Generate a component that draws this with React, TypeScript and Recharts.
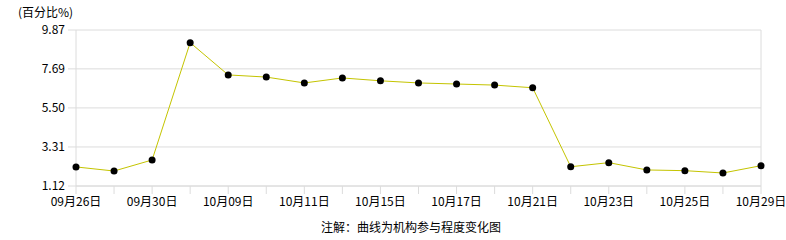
import { LineChart, Line, XAxis, YAxis, CartesianGrid, ReferenceLine } from "recharts";

const dates = [
  "09月26日", "09月27日", "09月30日", "10月08日", "10月09日", "10月10日", "10月11日",
  "10月14日", "10月15日", "10月16日", "10月17日", "10月18日", "10月21日", "10月22日",
  "10月23日", "10月24日", "10月25日", "10月28日", "10月29日",
];
const values = [
  2.19, 1.96, 2.58, 9.16, 7.35, 7.23, 6.9, 7.18, 7.02, 6.9, 6.84, 6.78, 6.63, 2.2, 2.43,
  2.02, 1.98, 1.85, 2.26,
];
const yTicks = [1.12, 3.31, 5.5, 7.69, 9.87];

const data = dates.map((d, i) => ({ date: d, value: values[i] }));

const font = '"Noto Sans CJK SC", "DejaVu Sans", sans-serif';
const gridColor = "#dcdcdc";

function XTick(props: any) {
  const { x, y, payload, index } = props;
  if (index % 2 !== 0) return null;
  return (
    <text x={x} y={y} dy="0.71em" textAnchor="middle" fill="#000" fontSize={12} fontFamily={font}>
      {payload.value}
    </text>
  );
}

export default function App() {
  return (
    <div style={{ position: "relative", width: 786, height: 240, fontFamily: font, background: "#fff" }}>
      <style>{`body{margin:0}`}</style>
      <div style={{ position: "absolute", left: 18, top: 3, fontSize: 12, color: "#000" }}>(百分比%)</div>
      <LineChart width={786} height={240} data={data} margin={{ top: 30, right: 25, bottom: 24, left: 0 }}>
        <CartesianGrid vertical={false} stroke={gridColor} />
        <XAxis
          dataKey="date"
          height={30}
          interval={0}
          tick={<XTick />}
          tickSize={8}
          tickMargin={3}
          stroke={gridColor}
        />
        <YAxis
          width={76}
          domain={[1.12, 9.87]}
          ticks={yTicks}
          tickFormatter={(v: number) => v.toFixed(2)}
          tick={{ fill: "#000", fontSize: 12, fontFamily: font }}
          tickSize={8}
          tickMargin={3}
          stroke={gridColor}
        />
        <ReferenceLine x={dates[dates.length - 1]} stroke={gridColor} />
        <Line
          type="linear"
          dataKey="value"
          stroke="#c4c400"
          strokeWidth={1}
          dot={{ r: 3.5, fill: "#000", stroke: "#000", strokeWidth: 0 }}
          isAnimationActive={false}
        />
      </LineChart>
      <div style={{ position: "absolute", left: 0, width: 822, top: 218, textAlign: "center", fontSize: 12, color: "#000" }}>
        注解：曲线为机构参与程度变化图
      </div>
    </div>
  );
}
